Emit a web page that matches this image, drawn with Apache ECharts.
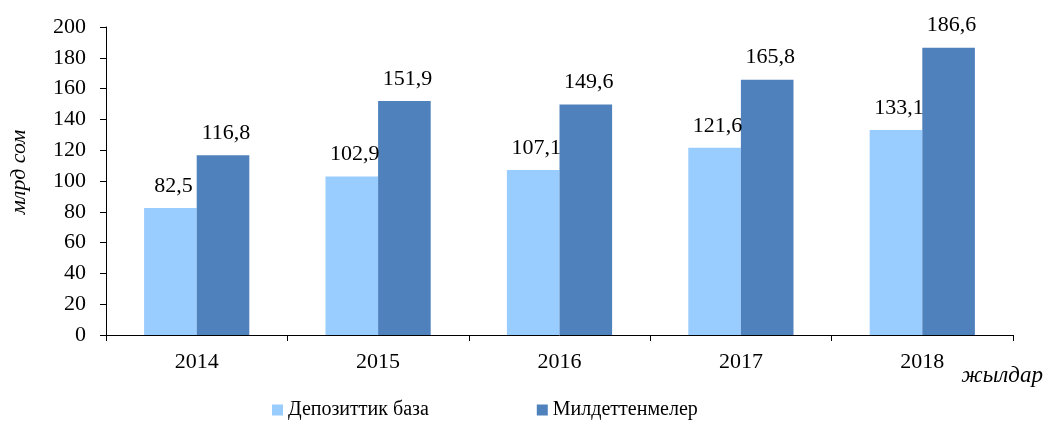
<!DOCTYPE html>
<html>
<head>
<meta charset="utf-8">
<script src="https://cdn.jsdelivr.net/npm/echarts@6/dist/echarts.min.js"></script>
<style>html,body{margin:0;padding:0;background:#fff;}#c{width:1046px;height:421px;}</style>
</head>
<body>
<div id="c"></div>
<script>
const categories = ['2014', '2015', '2016', '2017', '2018'];
const depositBase = [82.5, 102.9, 107.1, 121.6, 133.1];
const liabilities = [116.8, 151.9, 149.6, 165.8, 186.6];
const seriesNames = ['Депозиттик база', 'Милдеттенмелер'];
const yAxisName = 'млрд сом';
const xAxisName = 'жылдар';

const FONT = '"Liberation Serif", "Times New Roman", serif';
const FS = 22;
const chart = echarts.init(document.getElementById('c'), null, {renderer: 'canvas'});
const fmt = p => p.value.toFixed(1).replace('.', ',');
chart.setOption({
  animation: false,
  textStyle: {fontFamily: FONT},
  grid: {left: 103, right: 31, top: 27, bottom: 86},
  legend: {
    data: seriesNames,
    left: 272, top: 400, padding: 0,
    icon: 'rect', itemWidth: 11, itemHeight: 11, itemGap: 108,
    textStyle: {fontFamily: FONT, fontSize: 20, color: '#000'}
  },
  xAxis: {
    type: 'category',
    data: categories,
    name: xAxisName,
    nameLocation: 'end',
    nameGap: 0,
    nameTextStyle: {fontFamily: FONT, fontStyle: 'italic', fontSize: 23, color: '#000', align: 'right', verticalAlign: 'top', padding: [29, -30, 0, 0]},
    axisLine: {lineStyle: {color: '#000', width: 1}},
    axisTick: {show: true, length: 6, lineStyle: {color: '#000'}},
    axisLabel: {fontFamily: FONT, fontSize: FS, color: '#000', margin: 16}
  },
  yAxis: {
    type: 'value',
    min: 0, max: 200, interval: 20,
    name: yAxisName,
    nameLocation: 'middle',
    nameGap: 76,
    nameRotate: 90,
    nameTextStyle: {fontFamily: FONT, fontStyle: 'italic', fontSize: FS, color: '#000', padding: [0, 0, 0, 18]},
    axisLine: {show: true, lineStyle: {color: '#000', width: 1}},
    axisTick: {show: true, length: 6, lineStyle: {color: '#000'}},
    splitLine: {show: false},
    axisLabel: {fontFamily: FONT, fontSize: FS, color: '#000', margin: 20}
  },
  series: [
    {
      name: seriesNames[0], type: 'bar', data: depositBase,
      barGap: '0%', barCategoryGap: '42%',
      itemStyle: {color: '#99CCFF'},
      label: {show: true, position: 'top', distance: 11, offset: [3, 0], formatter: fmt, fontFamily: FONT, fontSize: FS, color: '#000'}
    },
    {
      name: seriesNames[1], type: 'bar', data: liabilities,
      itemStyle: {color: '#4F81BD'},
      label: {show: true, position: 'top', distance: 11, offset: [3, 0], formatter: fmt, fontFamily: FONT, fontSize: FS, color: '#000'}
    }
  ]
});
</script>
</body>
</html>
